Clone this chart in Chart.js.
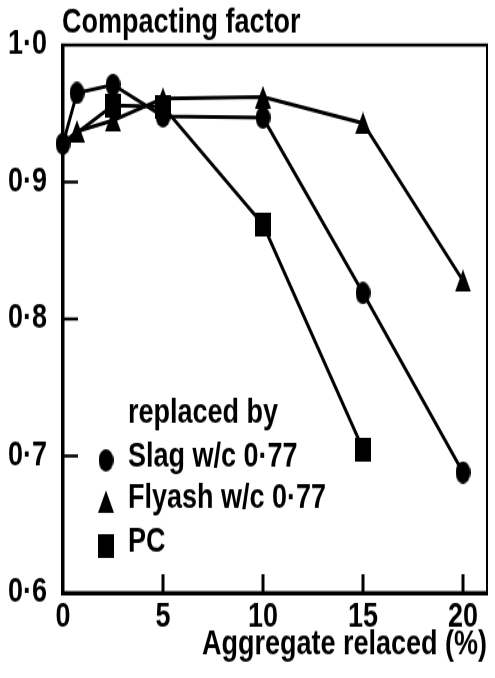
<!DOCTYPE html>
<html>
<head>
<meta charset="utf-8">
<script src="https://cdn.jsdelivr.net/npm/chart.js@4"></script>
<style>
  html, body { margin: 0; padding: 0; background: #fff; }
</style>
</head>
<body>
<!-- the scanned figure is taller than it is wide, so the canvas is stretched vertically -->
<canvas id="chart" width="495" height="542" style="display:block;width:495px;height:678px"></canvas>
<script>
// values
const slagX = [0, 0.7, 2.5, 5, 10, 15, 20];
const slagY = [0.928, 0.965, 0.971, 0.948, 0.947, 0.819, 0.688];

const flyashX = [0, 0.7, 2.5, 5, 10, 15, 20];
const flyashY = [0.928, 0.937, 0.945, 0.961, 0.962, 0.943, 0.828];

const pcX = [0, 2.5, 5, 10, 15];
const pcY = [0.928, 0.956, 0.955, 0.869, 0.705];

const seriesLabels = ['Slag w/c 0·77', 'Flyash w/c 0·77', 'PC'];
const legendTitle = 'replaced by';
const yTitle = 'Compacting factor';
const xTitle = 'Aggregate relaced (%)';

const xTickValues = [0, 5, 10, 15, 20];
const yTickValues = [0.6, 0.7, 0.8, 0.9, 1.0];

const FONT = { family: '"Liberation Sans", Arial, sans-serif', size: 27, weight: 'bold' };
const INK = '#000';

function toPoints(xs, ys) {
    return xs.map(function (x, i) { return { x: x, y: ys[i] }; });
}

// filled markers, a bit taller than wide like in the scan
function markerImage(shape, w, h) {
    const c = document.createElement('canvas');
    c.width = w;
    c.height = h;
    const g = c.getContext('2d');
    g.fillStyle = INK;
    g.beginPath();
    if (shape === 'circle') {
        g.ellipse(w / 2, h / 2, w / 2, h / 2, 0, 0, Math.PI * 2);
    } else if (shape === 'triangle') {
        g.moveTo(w / 2, 0);
        g.lineTo(w, h);
        g.lineTo(0, h);
        g.closePath();
    } else {
        g.rect(0, 0, w, h);
    }
    g.fill();
    return c;
}

const circleImg = markerImage('circle', 15, 18);
const triangleImg = markerImage('triangle', 16, 18);
const squareImg = markerImage('square', 16, 19);

function fmt(v) {
    return String(v.toFixed(1)).replace('.', '·');
}

// the shared starting point only shows the circle
function hideStart(c) {
    return c.raw && c.raw.x === 0 ? 0 : 7;
}

// box round the plot, inward ticks, top label and the legend
const decorations = {
    id: 'decorations',
    afterDraw(chart) {
        const ctx = chart.ctx;
        const a = chart.chartArea;
        const xs = chart.scales.x;
        const ys = chart.scales.y;
        ctx.save();
        ctx.fillStyle = INK;

        // frame
        ctx.fillRect(a.left - 2, a.top - 1, 3.5, a.bottom - a.top + 3);
        ctx.fillRect(a.left - 2, a.bottom - 1.5, a.right - a.left + 3, 3.5);
        ctx.fillRect(a.left - 2, a.top - 1.25, a.right - a.left + 3, 2.5);
        ctx.fillRect(a.right - 1, a.top - 1, 2, a.bottom - a.top + 2);

        // short ticks pointing into the plot
        for (let i = 1; i < xTickValues.length; i++) {
            const px = xs.getPixelForValue(xTickValues[i]);
            ctx.fillRect(px - 1.5, a.bottom - 15, 3, 15);
        }
        for (let i = 1; i < yTickValues.length - 1; i++) {
            const py = ys.getPixelForValue(yTickValues[i]);
            ctx.fillRect(a.left, py - 1.25, 15, 2.5);
        }

        ctx.font = FONT.weight + ' ' + FONT.size + 'px ' + FONT.family;
        ctx.textAlign = 'left';
        ctx.textBaseline = 'alphabetic';
        ctx.fillText(yTitle, 62, 26);

        ctx.fillText(legendTitle, 128, 338);
        const imgs = [circleImg, triangleImg, squareImg];
        const rows = [373, 406, 441];
        seriesLabels.forEach(function (lbl, i) {
            const img = imgs[i];
            ctx.drawImage(img, 106 - img.width / 2, rows[i] - 5 - img.height / 2);
            ctx.fillText(lbl, 128, rows[i]);
        });
        ctx.restore();
    }
};

const ctx = document.getElementById('chart').getContext('2d');
const chart = new Chart(ctx, {
    type: 'line',
    data: {
        datasets: [{
            label: seriesLabels[0],
            data: toPoints(slagX, slagY),
            pointStyle: circleImg
        }, {
            label: seriesLabels[1],
            data: toPoints(flyashX, flyashY),
            pointStyle: triangleImg,
            pointRadius: hideStart
        }, {
            label: seriesLabels[2],
            data: toPoints(pcX, pcY),
            pointStyle: squareImg,
            pointRadius: hideStart
        }]
    },
    options: {
        responsive: false,
        animation: false,
        devicePixelRatio: 1,
        layout: {
            padding: { top: 36, right: 8, left: 0, bottom: 0 }
        },
        elements: {
            line: { borderColor: INK, borderWidth: 3, tension: 0 },
            point: { radius: 7, backgroundColor: INK, borderColor: INK }
        },
        datasets: {
            line: { clip: false }
        },
        plugins: {
            legend: { display: false },
            tooltip: { enabled: false }
        },
        scales: {
            x: {
                type: 'linear',
                min: 0,
                max: 21.2,
                afterFit: function (s) { s.height = 68; },
                afterBuildTicks: function (s) {
                    s.ticks = xTickValues.map(function (v) { return { value: v }; });
                },
                grid: { display: false, drawTicks: false },
                border: { display: false },
                ticks: {
                    color: INK,
                    font: FONT,
                    padding: 3,
                    maxRotation: 0,
                    callback: function (v) { return String(v); }
                },
                title: {
                    display: true,
                    text: xTitle,
                    align: 'end',
                    color: INK,
                    font: FONT,
                    padding: { top: 0, bottom: 10 }
                }
            },
            y: {
                type: 'linear',
                min: 0.6,
                max: 1.0,
                afterFit: function (s) { s.width = 63; },
                afterBuildTicks: function (s) {
                    s.ticks = yTickValues.map(function (v) { return { value: v }; });
                },
                grid: { display: false, drawTicks: false },
                border: { display: false },
                ticks: {
                    color: INK,
                    font: FONT,
                    padding: 16,
                    callback: function (v) { return fmt(v); }
                }
            }
        }
    },
    plugins: [decorations]
});
</script>
</body>
</html>
